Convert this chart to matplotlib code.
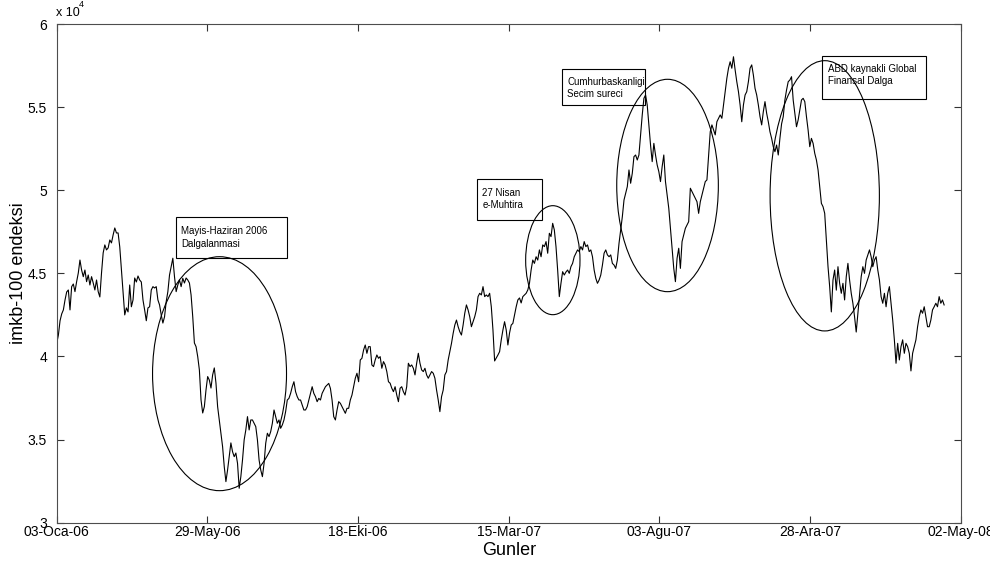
import numpy as np
import matplotlib
matplotlib.use('Agg')
import matplotlib.pyplot as plt
from matplotlib.patches import Ellipse, Rectangle

plt.rcParams['font.family'] = ['Liberation Sans', 'DejaVu Sans']

# IMKB-100 kapanis degerleri (Ocak 2006 - Nisan 2008)
imkb = [
    40790, 41290, 42150, 42560, 42800, 43400, 43880, 44000, 42800, 44200,
    44360, 43900, 44500, 45020, 45800, 45200, 44800, 45200, 44500, 44900,
    44300, 44800, 44420, 44000, 44600, 43900, 43580, 45020, 46230, 46710,
    46410, 46530, 47010, 46830, 47310, 47730, 47430, 47430, 46590, 45200,
    43820, 42500, 42920, 42680, 44300, 42990, 43400, 44720, 44480, 44840,
    44600, 44480, 43400, 42800, 42150, 42920, 42990, 44000, 44200, 44120,
    44200, 43400, 43100, 42500, 42010, 42390, 43300, 43900, 44900, 45400,
    45910, 44800, 43900, 44300, 44600, 44200, 44700, 44420, 44720, 44600,
    44420, 43700, 42390, 40810, 40590, 39990, 39190, 37380, 36600, 36980,
    37990, 38790,
    38580, 38100, 38890, 39310, 38400, 36980, 36180, 35400, 34570, 33370,
    32470, 33170, 33970, 34800, 34270, 33970, 34190, 33570, 32070, 32770,
    33770, 34980, 35580, 36380, 35580, 36180, 36180, 35980, 35780, 34980,
    33770, 33170, 32770, 33570, 34780, 35380, 35180, 35480, 35980, 36780,
    36380, 35980, 36180, 35680, 35880, 36180, 36680, 37380, 37480, 37780,
    38180, 38480, 37880, 37580, 37380, 37380, 37080, 36780, 36780, 36980,
    37380, 37780, 38180, 37780, 37580, 37280, 37480, 37380, 37780, 37980,
    38180, 38280, 38380, 38080, 37380, 36380, 36180, 36780, 37280, 37180,
    36980, 36780, 36580, 36880, 36880, 37380, 37680,
    38180, 38690, 38990, 38480, 39790, 39890, 40390, 40690, 40190, 40590,
    40590, 39490, 39390, 39790, 40090, 39890, 39990, 39290, 39690, 39490,
    39090, 38480, 38390, 38090, 37880, 38180, 37680, 37280, 38090, 38180,
    37880, 37680, 38180, 39590, 39390, 39490, 39290, 38890, 39590, 40190,
    39590, 39190, 39090, 39290, 38890, 38690, 38890, 39090, 38990, 38690,
    37980, 37380, 36680, 37580, 37980, 38890, 39090, 39790, 40290, 40790,
    41390, 41890, 42190, 41790, 41490, 41290, 41890, 42600, 43100, 42800,
    42390, 41790, 42090, 42390, 42800, 43600, 43800, 43700, 44200, 43600,
    43700, 43600, 43800, 42990, 41590, 39730,
    39910, 40090, 40290, 41000, 41590, 42090, 41590, 40690, 41410, 41890,
    41990, 42500, 42990, 43400, 43520, 43220, 43600, 43700, 43800, 44000,
    44400, 45200, 45800, 45600, 46000, 45800, 46410, 46000, 46710, 46610,
    46910, 46210, 47410, 47210, 48010, 47610, 46610, 45200, 43600, 44400,
    45100, 44900, 45080, 45200, 45000, 45400, 45600, 46000, 46210, 46410,
    46310, 46610, 46410, 46910, 46610, 46710, 46310, 46410, 46000, 45200,
    44700, 44400, 44600, 44900, 45500, 46210, 46410, 46110, 46000, 46110,
    45600, 45500, 45300, 45800, 46810, 47610, 48410, 49410, 49820, 50220,
    51220, 50420, 51020, 52020, 52120, 51820,
    52120, 53330, 54530, 55530, 55730, 55130, 53930, 52720, 51720, 52820,
    52120, 51520, 51120, 50520, 51420, 52120, 50520, 49710, 48910, 47710,
    46510, 45300, 44500, 45910, 46510, 45300, 46910, 47310, 47710, 47910,
    48110, 50120, 49920, 49710, 49520, 49310, 48610, 49310, 49710, 50120,
    50520, 50620, 52120, 53520, 53930, 53630, 53330, 54120, 54330, 54530,
    54330, 55130, 55930, 56730, 57340, 57730, 57340, 58030, 57240, 56530,
    55930, 55130, 54120, 55130, 55730, 55930, 56530, 57340, 57540, 56930,
    56130, 55730, 55130, 54430, 53930, 54730, 55330, 54630, 54120, 53520,
    53120, 52620, 52320, 52720, 52120, 53120, 53990, 54430,
    55430, 56030, 56530, 56630, 56830, 55430, 54630, 53820, 54230, 54830,
    55430, 55530, 55330, 54430, 53620, 52620, 53120, 52820, 52220, 51820,
    51220, 50220, 49210, 49010, 48610, 47010, 45400, 44200, 42680, 44600,
    45200, 43990, 45400, 44400, 43800, 44400, 43400, 44800, 45600, 44600,
    43800, 43200, 42390, 41470, 42600, 43800, 44800, 45400, 45000, 45800,
    46110, 46410, 46000, 45400, 45800, 46000, 45200, 44600, 43600, 43200,
    43800, 42990, 43800, 44200, 43200, 42190, 41000, 39590, 40790, 39790,
    40590, 41000, 40190, 40790, 40590, 40190, 39130, 40190, 40590, 41000,
    41790, 42390, 42800, 42600, 42990, 42390, 41790, 41790, 42190, 42800,
    42990, 43200, 42990, 43600, 43200, 43400, 43100,
]

# tarih etiketleri (her 100 islem gunu)
tarih_etiket = ['03-Oca-06', '29-May-06', '18-Eki-06', '15-Mar-07',
                '03-Agu-07', '28-Ara-07', '02-May-08']
y_etiket = ['3', '3.5', '4', '4.5', '5', '5.5', '6']

# olay notlari: metin satirlari
olaylar = [
    ['Mayis-Haziran 2006', 'Dalgalanmasi'],
    ['27 Nisan', 'e-Muhtira'],
    ['Cumhurbaskanligi', 'Secim sureci'],
    ['ABD kaynakli Global', 'Finansal Dalga'],
]

gun = np.linspace(0, 589, len(imkb))

fig = plt.figure(figsize=(9.9, 5.69), dpi=100)
ax = fig.add_axes([0.0573, 0.0814, 0.9131, 0.8764])

ax.plot(gun, imkb, color='k', linewidth=0.8)
ax.set_xlim(0, 600)
ax.set_ylim(30000, 60000)
ax.set_xticks(np.arange(0, 601, 100))
ax.set_xticklabels(tarih_etiket)
ax.set_yticks(np.arange(30000, 60001, 5000))
ax.set_yticklabels(y_etiket)

for s in ax.spines.values():
    s.set_color('0.3')
    s.set_linewidth(0.8)
ax.tick_params(direction='in', top=True, right=True, length=5, width=0.8,
               color='0.2', labelsize=10)
ax.tick_params(axis='x', pad=1.5)
ax.tick_params(axis='y', pad=7)

# carpan yazisi
fig.text(0.0566, 0.977, 'x 10', fontsize=9, ha='left', va='center')
fig.text(0.0800, 0.992, '4', fontsize=6.5, ha='left', va='center')

fig.text(0.0182, 0.52, 'imkb-100 endeksi', fontsize=13, rotation=90,
         ha='center', va='center')
fig.text(0.514, 0.032, 'Gunler', fontsize=13, ha='center', va='center')

# olay halkalari (eksen kesri olarak)
halkalar = [
    (0.1801, 0.2988, 0.1482, 0.4692),
    (0.5488, 0.5264, 0.0601, 0.2186),
    (0.6757, 0.6762, 0.1124, 0.4259),
    (0.8496, 0.6555, 0.1209, 0.5420),
]
for cx, cy, w, h in halkalar:
    ax.add_patch(Ellipse((cx, cy), w, h, transform=ax.transAxes,
                         fill=False, edgecolor='k', linewidth=0.8))

# not kutulari ve metinleri
kutular = [
    (0.1316, 0.5314, 0.1235, 0.0810),
    (0.4646, 0.6070, 0.0726, 0.0816),
    (0.5593, 0.8370, 0.0915, 0.0734),
    (0.8469, 0.8496, 0.1147, 0.0868),
]
metin_yer = [
    (0.1375, 0.5869, 0.5605),
    (0.4708, 0.6625, 0.6391),
    (0.5648, 0.8857, 0.8610),
    (0.8535, 0.9122, 0.8871),
]
for (x0, y0, w, h), (tx, ty1, ty2), satirlar in zip(kutular, metin_yer, olaylar):
    ax.add_patch(Rectangle((x0, y0), w, h, transform=ax.transAxes,
                           fill=False, edgecolor='k', linewidth=0.8))
    ax.text(tx, ty1, satirlar[0], transform=ax.transAxes, fontsize=7,
            ha='left', va='center_baseline')
    ax.text(tx, ty2, satirlar[1], transform=ax.transAxes, fontsize=7,
            ha='left', va='center_baseline')

fig.savefig('out.png', dpi=100)
